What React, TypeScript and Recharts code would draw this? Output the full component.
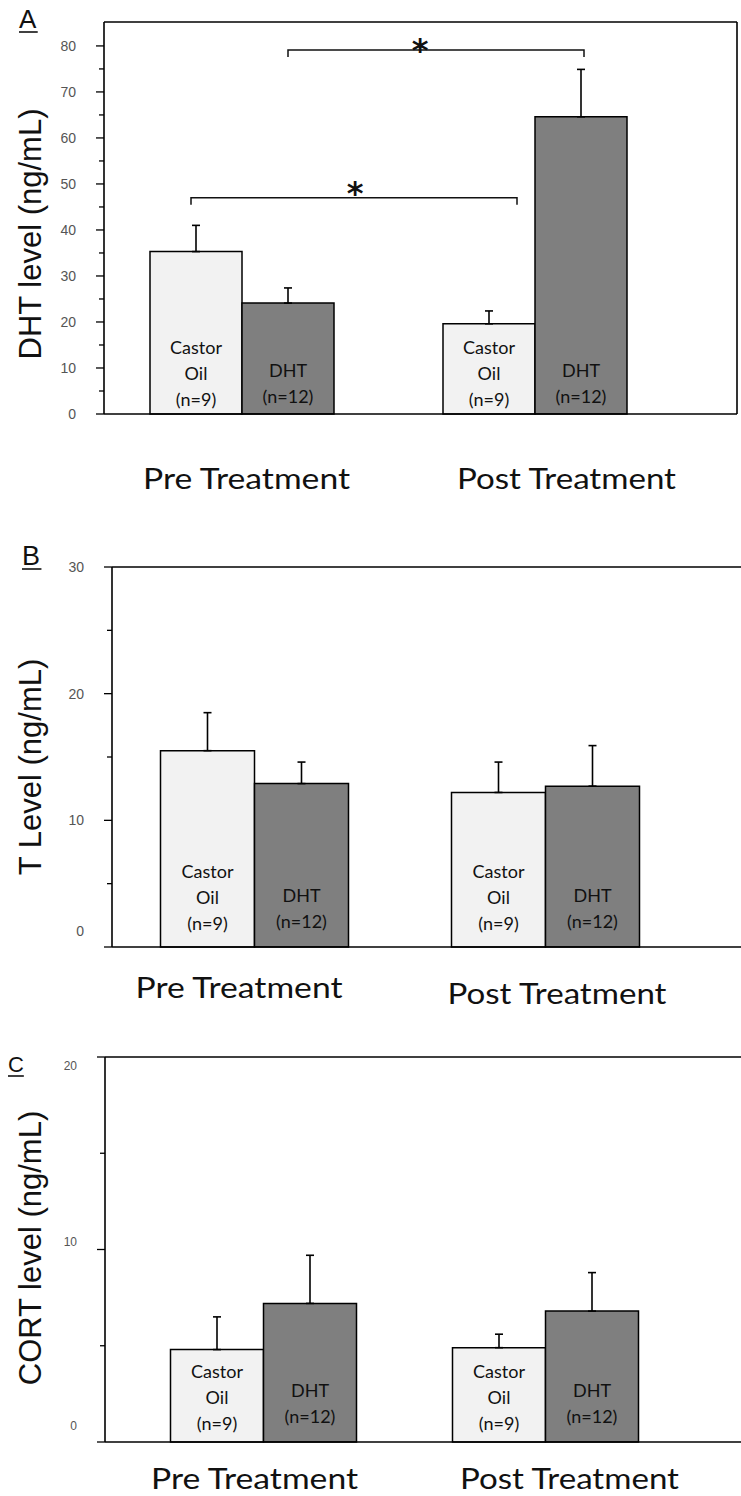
import React from 'react';
import { BarChart, Bar, XAxis, YAxis, ErrorBar, LabelList, Label, ReferenceLine } from 'recharts';

// ---------- data ----------
const categories = ['Pre Treatment', 'Post Treatment'];
const castorLines = ['Castor', 'Oil', '(n=9)'];
const dhtLines = ['DHT', '(n=12)'];

// Panel A: DHT level (ng/mL)
const dhtCastorMean = [35.3, 19.6];
const dhtCastorErr = [5.7, 2.8];
const dhtDhtMean = [24.1, 64.6];
const dhtDhtErr = [3.3, 10.3];

// Panel B: T level (ng/mL)
const tCastorMean = [15.5, 12.2];
const tCastorErr = [3.0, 2.4];
const tDhtMean = [12.9, 12.7];
const tDhtErr = [1.7, 3.2];

// Panel C: CORT level (ng/mL)
const cortCastorMean = [4.8, 4.9];
const cortCastorErr = [1.7, 0.7];
const cortDhtMean = [7.2, 6.8];
const cortDhtErr = [2.5, 2.0];

const dhtTicks = [0, 5, 10, 15, 20, 25, 30, 35, 40, 45, 50, 55, 60, 65, 70, 75, 80];
const tTicks = [0, 5, 10, 15, 20, 25, 30];
const cortTicks = [0, 5, 10, 15, 20];

const buildRows = (cm: number[], ce: number[], dm: number[], de: number[]) =>
  categories.map((cat, i) => ({
    cat,
    castor: cm[i],
    castorErr: [0, ce[i]],
    dht: dm[i],
    dhtErr: [0, de[i]],
  }));

// ---------- panel layout ----------
type Bracket = { x1: number; x2: number; value: number; starX: number; starDy: number };
type PanelCfg = {
  letter: string; letterX: number; letterY: number; letterSize: number;
  top: number; height: number;
  plotTop: number; plotBottom: number; plotLeft: number; rightAxis: boolean;
  yMax: number; ticks: number[]; majorStep: number; tickFont: number; tickLabelDy: Record<number, number>;
  padL: number; padR: number; barSize: number;
  title: string; titleY: number;
  catDx: number[]; catDy: number[];
  castorTextTop: number; dhtTextTop: number;
  brackets: Bracket[];
  rows: any[];
};

const panels: PanelCfg[] = [
  {
    letter: 'A', letterX: 19, letterY: 28, letterSize: 26,
    top: 0, height: 500,
    plotTop: 22, plotBottom: 414, plotLeft: 104, rightAxis: true,
    yMax: 85.2, ticks: dhtTicks, majorStep: 10, tickFont: 14, tickLabelDy: {},
    padL: -9, padR: 56, barSize: 92,
    title: 'DHT level (ng/mL)', titleY: 234,
    catDx: [5, 32], catDy: [64, 64],
    castorTextTop: -67, dhtTextTop: -44,
    brackets: [
      { x1: 288, x2: 584, value: 79.1, starX: 420, starDy: -7 },
      { x1: 191, x2: 517, value: 47, starX: 355, starDy: -12 },
    ],
    rows: buildRows(dhtCastorMean, dhtCastorErr, dhtDhtMean, dhtDhtErr),
  },
  {
    letter: 'B', letterX: 22, letterY: 25, letterSize: 27,
    top: 540, height: 477,
    plotTop: 27, plotBottom: 407, plotLeft: 112, rightAxis: false,
    yMax: 30, ticks: tTicks, majorStep: 10, tickFont: 14, tickLabelDy: { 0: -16 },
    padL: -3.5, padR: 50.5, barSize: 94,
    title: 'T Level (ng/mL)', titleY: 767 - 540,
    catDx: [-15, 12], catDy: [40, 46],
    castorTextTop: -76, dhtTextTop: -52,
    brackets: [],
    rows: buildRows(tCastorMean, tCastorErr, tDhtMean, tDhtErr),
  },
  {
    letter: 'C', letterX: 8, letterY: 42, letterSize: 22,
    top: 1030, height: 466,
    plotTop: 27, plotBottom: 412, plotLeft: 105, rightAxis: false,
    yMax: 20, ticks: cortTicks, majorStep: 10, tickFont: 12, tickLabelDy: { 0: -16, 10: -8, 20: 9 },
    padL: 17.5, padR: 54.5, barSize: 93,
    title: 'CORT level (ng/mL)', titleY: 1248 - 1030,
    catDx: [-9, 24], catDy: [36, 36],
    castorTextTop: -71, dhtTextTop: -52,
    brackets: [],
    rows: buildRows(cortCastorMean, cortCastorErr, cortDhtMean, cortDhtErr),
  },
];

const catWidths = [207, 219];

// ---------- renderers ----------
const makeBarText = (lines: string[], firstOffset: number) => (props: any) => {
  const vb = props.viewBox ?? {};
  const x = Number(vb.x ?? props.x);
  const y = Number(vb.y ?? props.y);
  const w = Number(vb.width ?? props.width);
  const h = Number(vb.height ?? props.height);
  const bottom = Math.max(y, y + h);
  const cx = x + w / 2;
  return (
    <g>
      {lines.map((l, i) => (
        <text key={i} x={cx} y={bottom + firstOffset + i * 26} textAnchor="middle" dominantBaseline="central"
          fontFamily="Lato" fontSize={18} fill="#111">{l}</text>
      ))}
    </g>
  );
};

const Panel = ({ cfg }: { cfg: PanelCfg }) => {
  const yPx = (v: number) => cfg.plotTop + (1 - v / cfg.yMax) * (cfg.plotBottom - cfg.plotTop);
  const yTick = (p: any) => {
    const v = p.payload.value;
    const major = v % cfg.majorStep === 0;
    return (
      <g>
        <line x1={p.x - (major ? 8 : 5)} x2={p.x} y1={p.y} y2={p.y} stroke="#000" strokeWidth={1.3} />
        {major && (
          <text x={p.x - 28} y={p.y + (cfg.tickLabelDy[v] ?? 0)} textAnchor="end" dominantBaseline="central"
            fontFamily="Liberation Sans, Arial" fontSize={cfg.tickFont} fill="#555">{v}</text>
        )}
      </g>
    );
  };
  const rightTick = (p: any) => (
    <line x1={p.x} x2={p.x + 5} y1={p.y} y2={p.y} stroke="#000" strokeWidth={1.2} />
  );
  const catTick = (p: any) => {
    const i = p.index;
    return (
      <text x={p.x + cfg.catDx[i]} y={p.y + cfg.catDy[i]} textAnchor="middle" dominantBaseline="central"
        fontFamily="Lato" fontSize={28} fill="#111" textLength={catWidths[i]} lengthAdjust="spacingAndGlyphs">
        {p.payload.value}
      </text>
    );
  };
  const titleContent = () => (
    <text x={41} y={cfg.titleY} textAnchor="middle" transform={`rotate(-90, 41, ${cfg.titleY})`}
      fontFamily="Liberation Sans, Arial" fontSize={31} fill="#111">{cfg.title}</text>
  );
  return (
    <div style={{ position: 'absolute', left: 0, top: cfg.top, width: 741, height: cfg.height }}>
      <BarChart width={741} height={cfg.height} data={cfg.rows} barGap={0} barSize={cfg.barSize}
        margin={{ top: cfg.plotTop, right: 0, bottom: 0, left: 0 }}>
        <XAxis xAxisId="bottom" dataKey="cat" height={cfg.height - cfg.plotBottom} interval={0}
          axisLine={{ stroke: '#000', strokeWidth: 1.6 }} tickLine={false} tickSize={0} tickMargin={0}
          tick={catTick} padding={{ left: cfg.padL, right: cfg.padR }} />
        <YAxis yAxisId="left" width={cfg.plotLeft} domain={[0, cfg.yMax]} ticks={cfg.ticks} interval={0}
          axisLine={{ stroke: '#000', strokeWidth: 1.6 }} tickLine={false} tickSize={0} tickMargin={0} tick={yTick}>
          <Label content={titleContent} />
        </YAxis>
        {cfg.rightAxis && (
          <YAxis yAxisId="right" orientation="right" width={4} domain={[0, cfg.yMax]} ticks={cfg.ticks} interval={0}
            axisLine={{ stroke: '#000', strokeWidth: 1.6 }} tickLine={false} tickSize={0} tickMargin={0} tick={rightTick} />
        )}
        <ReferenceLine xAxisId="bottom" yAxisId="left" y={cfg.yMax} stroke="#000" strokeWidth={1.6} />
        <Bar xAxisId="bottom" yAxisId="left" dataKey="castor" fill="#f2f2f2" stroke="#000" strokeWidth={1.5} isAnimationActive={false}>
          <ErrorBar dataKey="castorErr" width={4} stroke="#000" strokeWidth={1.6} direction="y" />
          <LabelList dataKey="castor" content={makeBarText(castorLines, cfg.castorTextTop)} />
        </Bar>
        <Bar xAxisId="bottom" yAxisId="left" dataKey="dht" fill="#7f7f7f" stroke="#000" strokeWidth={1.5} isAnimationActive={false}>
          <ErrorBar dataKey="dhtErr" width={4} stroke="#000" strokeWidth={1.6} direction="y" />
          <LabelList dataKey="dht" content={makeBarText(dhtLines, cfg.dhtTextTop)} />
        </Bar>
      </BarChart>
      <svg width={741} height={cfg.height} style={{ position: 'absolute', left: 0, top: 0, pointerEvents: 'none' }}>
        <text x={cfg.letterX} y={cfg.letterY} fontFamily="Liberation Sans, Arial" fontSize={cfg.letterSize} fill="#111">{cfg.letter}</text>
        <line x1={cfg.letterX} x2={cfg.letterX + cfg.letterSize * 0.72} y1={cfg.letterY + 4} y2={cfg.letterY + 4} stroke="#111" strokeWidth={1.6} />
        {cfg.brackets.map((b, i) => {
          const y = yPx(b.value);
          return (
            <g key={i}>
              <path d={`M${b.x1},${y + 7} L${b.x1},${y} L${b.x2},${y} L${b.x2},${y + 7}`} fill="none" stroke="#111" strokeWidth={1.5} />
              <text x={b.starX} y={y + b.starDy + 18} textAnchor="middle" fontFamily="DejaVu Sans" fontWeight="bold" fontSize={32} fill="#111">*</text>
            </g>
          );
        })}
      </svg>
    </div>
  );
}

export default function App() {
  return (
    <div style={{ position: 'absolute', left: 0, top: 0, width: 741, height: 1496, background: '#fff', overflow: 'hidden' }}>
      {panels.map((p) => (
        <Panel key={p.letter} cfg={p} />
      ))}
    </div>
  );
}
